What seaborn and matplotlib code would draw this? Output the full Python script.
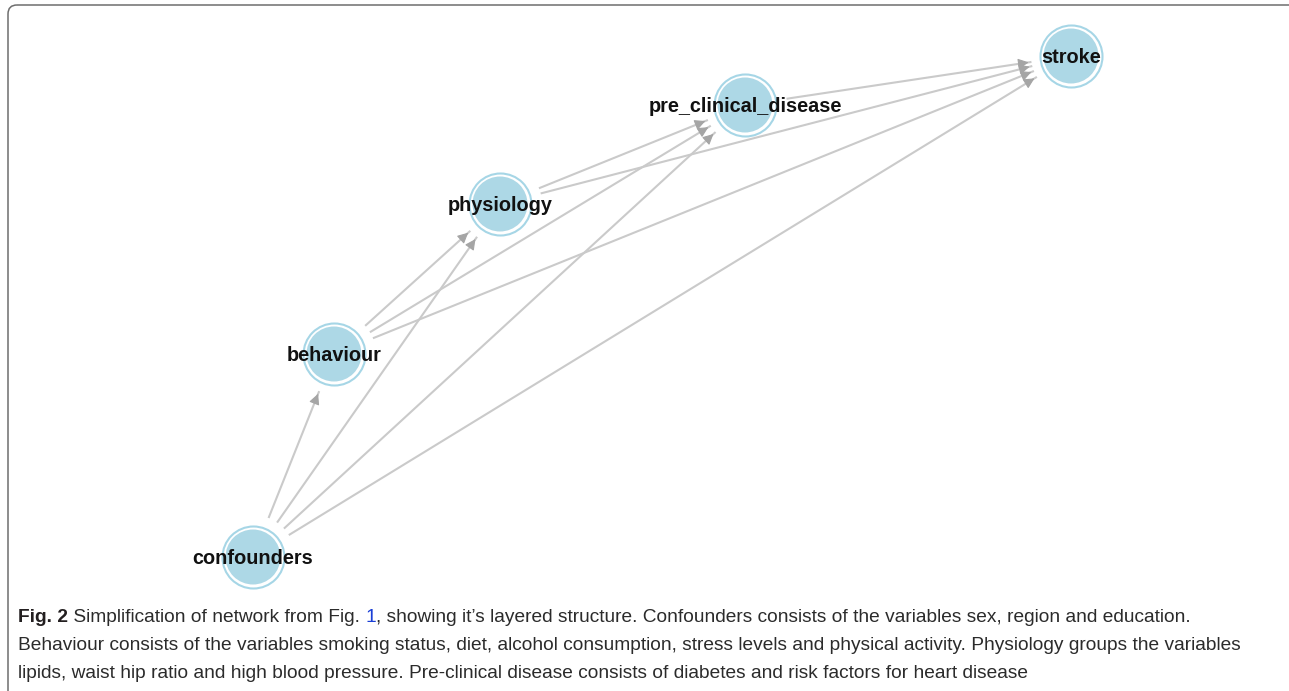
import numpy as np
import pandas as pd
import matplotlib
matplotlib.use("Agg")
import matplotlib.pyplot as plt
import seaborn as sns
from matplotlib.patches import FancyBboxPatch, FancyArrowPatch

# ---- data ----
node_names = ["confounders", "behaviour", "physiology", "pre_clinical_disease", "stroke"]
node_x = [253, 334, 500, 745, 1071]
node_y = [557, 354, 204, 105, 56]
edge_src = ["confounders", "confounders", "confounders", "confounders",
            "behaviour", "behaviour", "behaviour",
            "physiology", "physiology",
            "pre_clinical_disease"]
edge_dst = ["behaviour", "physiology", "pre_clinical_disease", "stroke",
            "physiology", "pre_clinical_disease", "stroke",
            "pre_clinical_disease", "stroke",
            "stroke"]
caption_bold = "Fig. 2"
caption_l1a = " Simplification of network from Fig. "
caption_link = "1"
caption_l1b = ", showing it\u2019s layered structure. Confounders consists of the variables sex, region and education."
caption_l2 = "Behaviour consists of the variables smoking status, diet, alcohol consumption, stress levels and physical activity. Physiology groups the variables"
caption_l3 = "lipids, waist hip ratio and high blood pressure. Pre-clinical disease consists of diabetes and risk factors for heart disease"

sns.set_style("white")
plt.rcParams["font.family"] = ["Liberation Sans", "DejaVu Sans"]

W, H = 1289, 691
fig = plt.figure(figsize=(W / 100, H / 100), dpi=100)
ax = fig.add_axes([0, 0, 1, 1])
ax.set_xlim(0, W)
ax.set_ylim(H, 0)
ax.axis("off")

nodes = pd.DataFrame({"name": node_names, "x": node_x, "y": node_y})
pos = {n: np.array([x, y], float) for n, x, y in zip(node_names, node_x, node_y)}

# border
ax.add_patch(FancyBboxPatch((8, 5), 1290, 700, boxstyle="round,pad=0,rounding_size=9",
                            ec="#6e6e6e", fc="none", lw=1.1, zorder=0))

# edges
for s, d in zip(edge_src, edge_dst):
    p0, p1 = pos[s], pos[d]
    u = (p1 - p0) / np.linalg.norm(p1 - p0)
    a = p0 + u * 42
    b = p1 - u * 40
    ax.plot([a[0], b[0]], [a[1], b[1]], color="#cacaca", lw=1.5, zorder=1,
            solid_capstyle="butt")
    ax.add_patch(FancyArrowPatch(tuple(b - u * 8), tuple(b),
                                 arrowstyle="-|>,head_length=0.8,head_width=0.4",
                                 mutation_scale=8, color="#a5a5a5", lw=0.8, zorder=2))

# nodes: outer ring + fill
r_out_pt = 31 * 0.72
r_in_pt = 27.5 * 0.72
sns.scatterplot(data=nodes, x="x", y="y", s=(2 * r_out_pt) ** 2, color="white",
                edgecolor="#a6d6e6", linewidth=1.5, ax=ax, zorder=3, legend=False)
sns.scatterplot(data=nodes, x="x", y="y", s=(2 * r_in_pt) ** 2, color="#add8e6",
                edgecolor="none", linewidth=0, ax=ax, zorder=4, legend=False)
for n, x, y in zip(node_names, node_x, node_y):
    ax.text(x, y + 1, n, ha="center", va="center", fontsize=14.3, fontweight="bold",
            color="#111111", zorder=5, family=["Liberation Sans", "DejaVu Sans"])
ax.set_xlabel("")
ax.set_ylabel("")

# caption
cap_font = ["Liberation Sans Narrow", "Liberation Sans", "DejaVu Sans"]
fs = 13.8
fig.canvas.draw()
r = fig.canvas.get_renderer()

def put(x, y, s, **kw):
    t = ax.text(x, y, s, ha="left", va="center", fontsize=fs, family=cap_font, **kw)
    bb = t.get_window_extent(renderer=r)
    return bb.x1

x = put(18, 617, caption_bold, fontweight="bold", color="#231f20")
x = put(x, 617, caption_l1a, color="#2b2b2b")
x = put(x, 617, caption_link, color="#1a3fd6")
put(x, 617, caption_l1b, color="#2b2b2b")
put(18, 646, caption_l2, color="#2b2b2b")
put(18, 674, caption_l3, color="#2b2b2b")

fig.savefig("out.png", dpi=100)
